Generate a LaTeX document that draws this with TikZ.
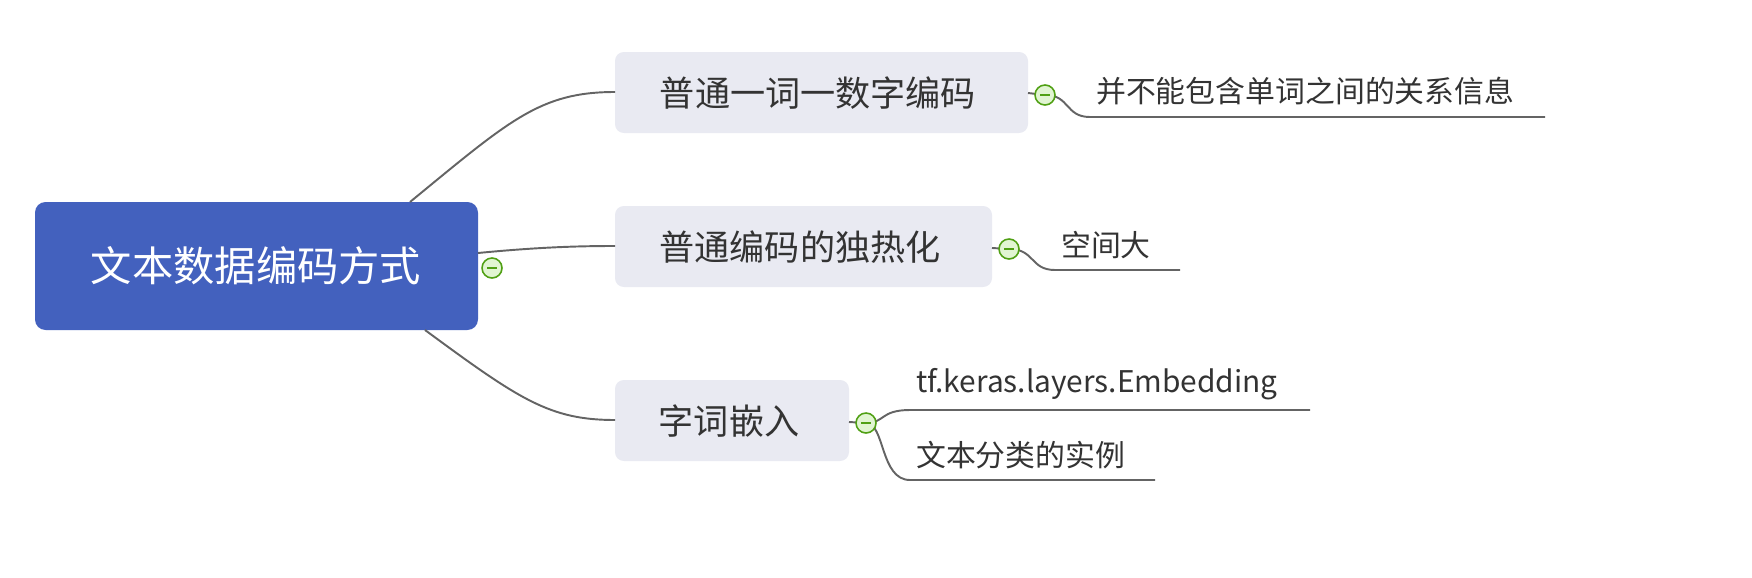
\documentclass[tikz,border=0pt]{standalone}
\usepackage{fontspec}
\setmainfont{Noto Sans CJK SC}
\definecolor{rootblue}{RGB}{67,97,190}
\definecolor{subgray}{RGB}{233,234,242}
\definecolor{linegray}{RGB}{100,100,100}
\definecolor{togglegreen}{RGB}{80,160,20}
\definecolor{togglefill}{RGB}{225,245,210}
\tikzset{
  rootbox/.style={fill=rootblue, rounded corners=6pt},
  subbox/.style={fill=subgray, rounded corners=5pt},
  leaftext/.style={anchor=west, text=black!80, font=\fontsize{17}{20}\selectfont},
  link/.style={linegray, line width=1.1pt},
  toggle/.style={circle, draw=togglegreen, fill=togglefill, line width=0.9pt, minimum size=0.4cm, inner sep=0pt},
  minus/.style={togglegreen, line width=0.9pt},
}
\begin{document}
\begin{tikzpicture}[x=0.02cm, y=-0.02cm]
    \clip (0,0) rectangle (1752,578);
    \useasboundingbox (0,0) rectangle (1752,578);

    % 中心主题
    \fill[rootbox] (35,202) rectangle (478,330);
    \node[text=white, font=\fontsize{23.5}{28}\selectfont] (root) at (256,266) {文本数据编码方式};

    % 分支
    \fill[subbox] (615,52) rectangle (1028,133);
    \node[text=black!80, font=\fontsize{20}{24}\selectfont] (b1) at (818,93) {普通一词一数字编码};
    \fill[subbox] (615,206) rectangle (992,287);
    \node[text=black!80, font=\fontsize{20}{24}\selectfont] (b2) at (800,247) {普通编码的独热化};
    \fill[subbox] (615,380) rectangle (849,461);
    \node[text=black!80, font=\fontsize{20}{24}\selectfont] (b3) at (729,421) {字词嵌入};

    % 定义连线端点
    \coordinate (r1) at (410,202);
    \coordinate (r2) at (478,253);
    \coordinate (r3) at (425,330);
    \coordinate (e1) at (615,92);
    \coordinate (e2) at (615,246);
    \coordinate (e3) at (615,420);

    % 主题到分支的连线
    \draw[link] (r1) .. controls (510,120) and (540,92) .. (e1);
    \draw[link] (r2) .. controls (540,247) and (580,246) .. (e2);
    \draw[link] (r3) .. controls (520,400) and (550,420) .. (e3);

    % 叶子的连线
    \coordinate (t1) at (1045,95);
    \coordinate (t2) at (1009,249);
    \coordinate (t3) at (866,423);
    \coordinate (l1) at (1545,117);
    \coordinate (l2) at (1180,270);
    \coordinate (l3a) at (1310,410);
    \coordinate (l3b) at (1155,480);
    \draw[link] (1028,93) -- (t1);
    \draw[link] (992,248) -- (t2);
    \draw[link] (849,422) -- (t3);
    \draw[link] (t1) .. controls (1070,95) and (1065,117) .. (1090,117) -- (l1);
    \draw[link] (t2) .. controls (1035,249) and (1030,270) .. (1055,270) -- (l2);
    \draw[link] (t3) .. controls (885,423) and (880,410) .. (910,410) -- (l3a);
    \draw[link] (t3) .. controls (885,423) and (880,480) .. (910,480) -- (l3b);

    % 折叠按钮
    \foreach \name/\pos in {g0/{(492,268)}, g1/{(t1)}, g2/{(t2)}, g3/{(t3)}} {
        \node[toggle] (\name) at \pos {};
        \draw[minus] ([xshift=-1mm]\name.center) -- ([xshift=1mm]\name.center);
    }

    % 叶子文字
    \node[leaftext] (c1) at (1090,91) {并不能包含单词之间的关系信息};
    \node[leaftext] (c2) at (1055,245) {空间大};
    \node[leaftext] (c3a) at (910,384) {tf.keras.layers.Embedding};
    \node[leaftext] (c3b) at (910,455) {文本分类的实例};
\end{tikzpicture}
\end{document}
